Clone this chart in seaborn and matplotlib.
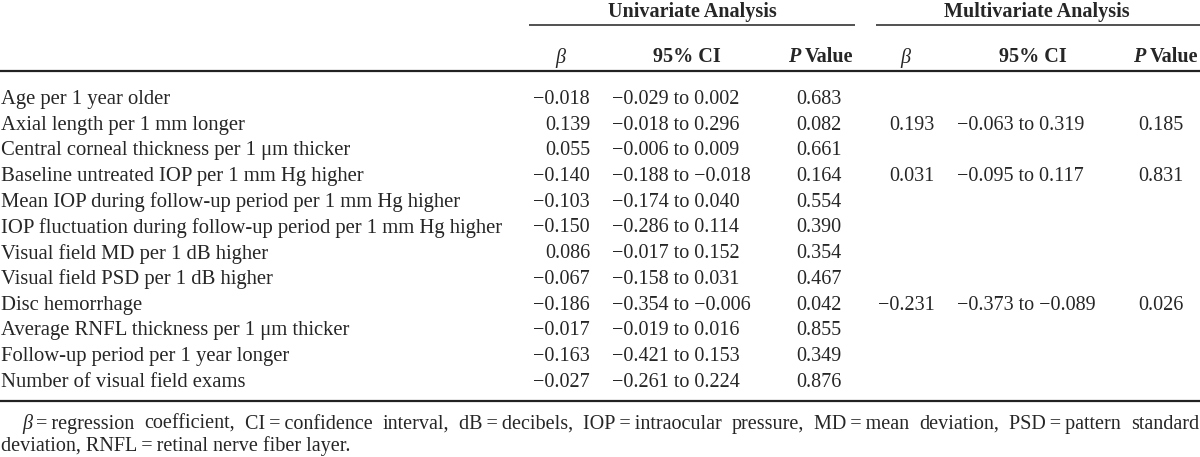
import matplotlib
matplotlib.use("Agg")
import matplotlib.pyplot as plt
import seaborn as sns

# Table style: white background, serif (Times-like) text
sns.set_theme(style="white")
plt.rcParams['font.family'] = ['Liberation Serif', 'DejaVu Serif']

# ---- data ----
labels = [
    "Age per 1 year older",
    "Axial length per 1 mm longer",
    "Central corneal thickness per 1 μm thicker",
    "Baseline untreated IOP per 1 mm Hg higher",
    "Mean IOP during follow-up period per 1 mm Hg higher",
    "IOP fluctuation during follow-up period per 1 mm Hg higher",
    "Visual field MD per 1 dB higher",
    "Visual field PSD per 1 dB higher",
    "Disc hemorrhage",
    "Average RNFL thickness per 1 μm thicker",
    "Follow-up period per 1 year longer",
    "Number of visual field exams",
]
uni_beta = [-0.018, 0.139, 0.055, -0.140, -0.103, -0.150, 0.086, -0.067, -0.186, -0.017, -0.163, -0.027]
uni_lo = [-0.029, -0.018, -0.006, -0.188, -0.174, -0.286, -0.017, -0.158, -0.354, -0.019, -0.421, -0.261]
uni_hi = [0.002, 0.296, 0.009, -0.018, 0.040, 0.114, 0.152, 0.031, -0.006, 0.016, 0.153, 0.224]
uni_p = [0.683, 0.082, 0.661, 0.164, 0.554, 0.390, 0.354, 0.467, 0.042, 0.855, 0.349, 0.876]
multi_beta = [None, 0.193, None, 0.031, None, None, None, None, -0.231, None, None, None]
multi_lo = [None, -0.063, None, -0.095, None, None, None, None, -0.373, None, None, None]
multi_hi = [None, 0.319, None, 0.117, None, None, None, None, -0.089, None, None, None]
multi_p = [None, 0.185, None, 0.831, None, None, None, None, 0.026, None, None, None]

footnote_1 = [[("β", "italic"), ("\u2009=\u2009regression", "normal")], "coefficient,",
              "CI\u2009=\u2009confidence", "interval,", "dB\u2009=\u2009decibels,",
              "IOP\u2009=\u2009intraocular", "pressure,", "MD\u2009=\u2009mean", "deviation,",
              "PSD\u2009=\u2009pattern", "standard"]
footnote_2 = "deviation, RNFL\u2009=\u2009retinal nerve fiber layer."

FS = 14.5
FS_LAB = 14.9


def fmt(v):
    return f"{v:.3f}".replace("-", "\u2212")


fig = plt.figure(figsize=(12, 4.57), dpi=100)
ax = fig.add_axes([0, 0, 1, 1])
ax.set_xlim(0, 1200)
ax.set_ylim(457, 0)
ax.axis('off')
fig.canvas.draw()
renderer = fig.canvas.get_renderer()


def text_width(s, size=FS, **kw):
    t = ax.text(0, 0, s, fontsize=size, **kw)
    w = t.get_window_extent(renderer=renderer).width
    t.remove()
    return w


# group headers and rules
ax.text(692, 9, "Univariate Analysis", fontsize=FS, fontweight='bold', ha='center', va='center_baseline')
ax.text(1037, 9, "Multivariate Analysis", fontsize=FS, fontweight='bold', ha='center', va='center_baseline')
ax.hlines(25, 529, 855, color='#222222', lw=1.1)
ax.hlines(25, 876, 1200, color='#222222', lw=1.1)

# column headers
y_sub = 55
for x_beta, x_ci, x_pr in [(560, 687, 853), (905, 1033, 1198)]:
    ax.text(x_beta, y_sub, "β", fontsize=FS, style='italic', ha='center', va='center_baseline')
    ax.text(x_ci, y_sub, "95% CI", fontsize=FS, fontweight='bold', ha='center', va='center_baseline')
    ax.text(x_pr, y_sub, "Value", fontsize=FS, fontweight='bold', ha='right', va='center_baseline')
    w_val = text_width("Value", fontweight='bold')
    ax.text(x_pr - w_val - 4, y_sub, "P", fontsize=FS, fontweight='bold', style='italic',
            ha='right', va='center_baseline')
ax.hlines(71, 0, 1200, color='#222222', lw=1.6)

# body rows
y0, dy = 97, 25.7
for i, lab in enumerate(labels):
    y = y0 + i * dy
    ax.text(1, y, lab, fontsize=FS_LAB, ha='left', va='center_baseline')
    ax.text(590, y, fmt(uni_beta[i]), fontsize=FS, ha='right', va='center_baseline')
    ax.text(612, y, f"{fmt(uni_lo[i])} to {fmt(uni_hi[i])}", fontsize=FS, ha='left', va='center_baseline')
    ax.text(819, y, fmt(uni_p[i]), fontsize=FS, ha='center', va='center_baseline')
    if multi_beta[i] is not None:
        ax.text(935, y, fmt(multi_beta[i]), fontsize=FS, ha='right', va='center_baseline')
        ax.text(957, y, f"{fmt(multi_lo[i])} to {fmt(multi_hi[i])}", fontsize=FS, ha='left',
                va='center_baseline')
        ax.text(1161, y, fmt(multi_p[i]), fontsize=FS, ha='center', va='center_baseline')

ax.hlines(401, 0, 1200, color='#222222', lw=1.6)

# footnote, first line justified between x0 and x1
y_f1, y_f2 = 422, 444
x0, x1 = 22, 1199
units = []
for u in footnote_1:
    segs = u if isinstance(u, list) else [(u, "normal")]
    widths = [text_width(s, style=st) for s, st in segs]
    units.append((segs, widths))
total = sum(sum(w) for _, w in units)
gap = (x1 - x0 - total) / (len(units) - 1)
x = x0
for segs, widths in units:
    for (s, st), w in zip(segs, widths):
        ax.text(x, y_f1, s, fontsize=FS, style=st, ha='left', va='center_baseline')
        x += w
    x += gap
ax.text(1, y_f2, footnote_2, fontsize=FS, ha='left', va='center_baseline')

fig.savefig("out.png", dpi=100, facecolor='white')
